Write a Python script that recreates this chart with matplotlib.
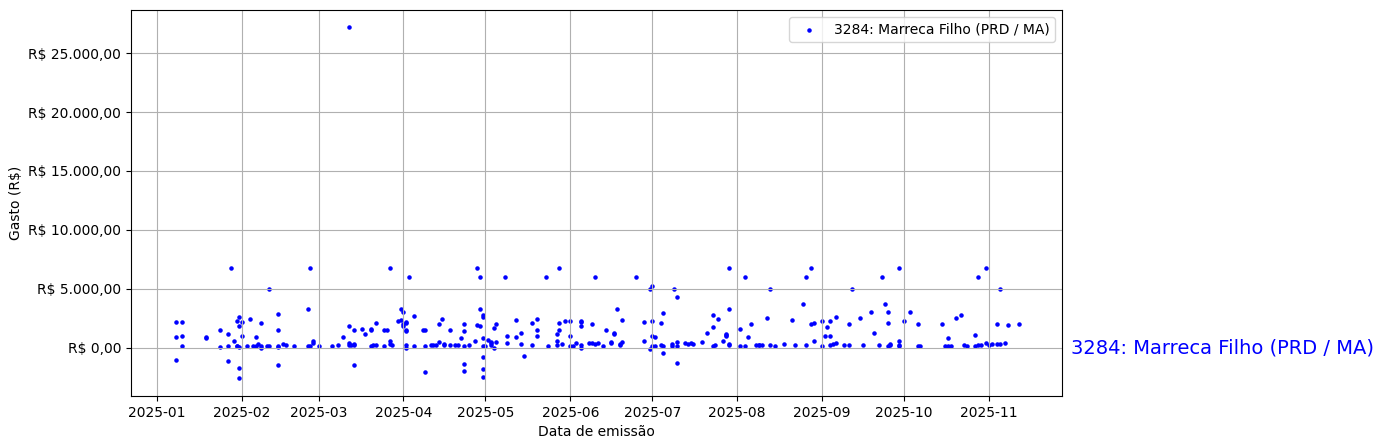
import matplotlib
matplotlib.use("Agg")
import matplotlib.pyplot as plt
import matplotlib.ticker as mticker
import matplotlib.transforms as mtrans
import pandas as pd

rotulo = "3284: Marreca Filho (PRD / MA)"

# data de emissao / gasto (R$)
datas = [
    # jan
    "2025-01-08", "2025-01-10", "2025-01-08", "2025-01-10", "2025-01-10", "2025-01-08",
    "2025-01-19", "2025-01-19", "2025-01-24", "2025-01-24", "2025-01-27", "2025-01-27",
    "2025-01-27", "2025-01-28", "2025-01-29", "2025-01-30", "2025-01-31", "2025-01-31",
    "2025-01-30", "2025-01-31", "2025-01-30", "2025-01-31", "2025-01-31",
    # fev
    "2025-02-01", "2025-02-01", "2025-02-04", "2025-02-06", "2025-02-08", "2025-02-03",
    "2025-02-05", "2025-02-06", "2025-02-07", "2025-02-08", "2025-02-08", "2025-02-11",
    "2025-02-11", "2025-02-10", "2025-02-14", "2025-02-14", "2025-02-14", "2025-02-14",
    "2025-02-14", "2025-02-16", "2025-02-17", "2025-02-20", "2025-02-25", "2025-02-25",
    "2025-02-26", "2025-02-26", "2025-02-27", "2025-02-27",
    # mar
    "2025-03-01", "2025-03-06", "2025-03-08", "2025-03-10", "2025-03-12", "2025-03-14",
    "2025-03-12", "2025-03-12", "2025-03-14", "2025-03-14", "2025-03-13", "2025-03-14",
    "2025-03-12", "2025-03-17", "2025-03-18", "2025-03-20", "2025-03-20", "2025-03-20",
    "2025-03-21", "2025-03-22", "2025-03-22", "2025-03-25", "2025-03-26", "2025-03-25",
    "2025-03-27", "2025-03-27", "2025-03-28", "2025-03-27", "2025-03-31", "2025-03-30",
    "2025-03-31",
    # abr
    "2025-04-01", "2025-04-01", "2025-04-01", "2025-04-02", "2025-04-02", "2025-04-02",
    "2025-04-02", "2025-04-05", "2025-04-02", "2025-04-02", "2025-04-05", "2025-04-03",
    "2025-04-08", "2025-04-09", "2025-04-09", "2025-04-09", "2025-04-11", "2025-04-12",
    "2025-04-13", "2025-04-14", "2025-04-15", "2025-04-14", "2025-04-16", "2025-04-16",
    "2025-04-18", "2025-04-18", "2025-04-20", "2025-04-21", "2025-04-22", "2025-04-23",
    "2025-04-23", "2025-04-23", "2025-04-23", "2025-04-23", "2025-04-25", "2025-04-27",
    "2025-04-28", "2025-04-29", "2025-04-29", "2025-04-28", "2025-04-29", "2025-04-30",
    "2025-04-30", "2025-04-30", "2025-04-30", "2025-04-30", "2025-04-30", "2025-04-30",
    # mai
    "2025-05-01", "2025-05-02", "2025-05-03", "2025-05-03", "2025-05-04", "2025-05-03",
    "2025-05-04", "2025-05-05", "2025-05-05", "2025-05-08", "2025-05-09", "2025-05-09",
    "2025-05-12", "2025-05-12", "2025-05-14", "2025-05-14", "2025-05-15", "2025-05-18",
    "2025-05-20", "2025-05-20", "2025-05-20", "2025-05-18", "2025-05-23", "2025-05-24",
    "2025-05-27", "2025-05-27", "2025-05-27", "2025-05-28", "2025-05-28", "2025-05-28",
    "2025-05-29", "2025-05-30",
    # jun
    "2025-06-01", "2025-06-01", "2025-06-01", "2025-06-02", "2025-06-03", "2025-06-05",
    "2025-06-05", "2025-06-05", "2025-06-05", "2025-06-05", "2025-06-09", "2025-06-08",
    "2025-06-09", "2025-06-10", "2025-06-11", "2025-06-10", "2025-06-13", "2025-06-14",
    "2025-06-16", "2025-06-16", "2025-06-17", "2025-06-17", "2025-06-18", "2025-06-19",
    "2025-06-19", "2025-06-20", "2025-06-20", "2025-06-25", "2025-06-28", "2025-06-28",
    "2025-06-30", "2025-06-30",
    # jul
    "2025-07-01", "2025-07-01", "2025-07-01", "2025-07-02", "2025-07-01", "2025-07-02",
    "2025-07-04", "2025-07-05", "2025-07-04", "2025-07-05", "2025-07-05", "2025-07-08",
    "2025-07-08", "2025-07-09", "2025-07-10", "2025-07-10", "2025-07-10", "2025-07-10",
    "2025-07-13", "2025-07-14", "2025-07-15", "2025-07-16", "2025-07-19", "2025-07-21",
    "2025-07-23", "2025-07-23", "2025-07-23", "2025-07-24", "2025-07-25", "2025-07-27",
    "2025-07-28", "2025-07-28", "2025-07-28", "2025-07-29", "2025-07-29", "2025-07-29",
    "2025-07-29",
    # ago
    "2025-08-02", "2025-08-02", "2025-08-04", "2025-08-04", "2025-08-05", "2025-08-06",
    "2025-08-08", "2025-08-09", "2025-08-09", "2025-08-10", "2025-08-12", "2025-08-13",
    "2025-08-13", "2025-08-15", "2025-08-18", "2025-08-21", "2025-08-22", "2025-08-25",
    "2025-08-26", "2025-08-26", "2025-08-28", "2025-08-28", "2025-08-29", "2025-08-29",
    # set
    "2025-09-01", "2025-09-01", "2025-09-02", "2025-09-03", "2025-09-04", "2025-09-04",
    "2025-09-04", "2025-09-05", "2025-09-06", "2025-09-06", "2025-09-09", "2025-09-11",
    "2025-09-11", "2025-09-12", "2025-09-15", "2025-09-16", "2025-09-19", "2025-09-20",
    "2025-09-22", "2025-09-23", "2025-09-24", "2025-09-25", "2025-09-25", "2025-09-25",
    "2025-09-26", "2025-09-26", "2025-09-29", "2025-09-29", "2025-09-29", "2025-09-29",
    # out
    "2025-10-01", "2025-10-03", "2025-10-06", "2025-10-06", "2025-10-07", "2025-10-15",
    "2025-10-16", "2025-10-17", "2025-10-18", "2025-10-17", "2025-10-20", "2025-10-22",
    "2025-10-23", "2025-10-24", "2025-10-27", "2025-10-27", "2025-10-28", "2025-10-29",
    "2025-10-28", "2025-10-31", "2025-10-31",
    # nov
    "2025-11-01", "2025-11-02", "2025-11-04", "2025-11-05", "2025-11-04", "2025-11-05",
    "2025-11-07", "2025-11-08", "2025-11-12",
]

valores = [
    # jan
    2150, 2150, 870, 950, 100, -1090,
    870, 780, 1460, 40, 1120, 100,
    -1180, 6750, 530, 2230, 1800, 2570,
    100, 80, 120, -1780, -2630,
    # fev
    2140, 950, 2400, 870, 2060, 100,
    110, 100, 270, 100, -70, 5000,
    100, 130, 2830, 1460, 130, 80,
    -1520, 270, 190, 100, 3250, 100,
    130, 6750, 530, 360,
    # mar
    130, 100, 190, 920, 1800, 1460,
    350, 190, 270, 190, 190, -1520,
    27200, 1550, 1120, 1460, 1550, 100,
    190, 190, 2060, 1460, 1460, 100,
    530, 270, 190, 6750, 3250, 2230,
    2310,
    # abr
    3000, 1970, 1800, 2060, 2140, 1460,
    1380, 2660, 190, -70, 100, 6000,
    1460, 1460, 100, -2120, 190, 190,
    190, 1970, 2400, 440, 270, 190,
    1460, 190, 190, 190, 780, 1970,
    1380, 100, -1430, -2030, 190, 530,
    6750, 6000, 3250, 1890, 1800, 2740,
    2570, 780, 100, -840, -1860, -2540,
    # mai
    100, 610, 440, 190, -70, 360,
    1630, 1970, 440, 6000, 950, 360,
    2310, 870, 1210, 270, -750, 2060,
    2400, 1460, 950, 190, 6000, 100,
    530, 190, 1120, 2060, 1460, 6750,
    270, 2230,
    # jun
    2230, 950, 100, 130, 360, 2230,
    2140, 1800, 190, -70, 1970, 360,
    360, 270, 360, 6000, 100, 1460,
    360, 440, 1210, 1120, 3250, 190,
    270, 440, 2310, 6000, 530, 2140,
    5000, -160,
    # jul
    5210, 2230, 950, 870, 100, 100,
    2060, 2910, 190, 130, -500, 270,
    100, 5000, 4280, 440, 100, -1350,
    360, 270, 360, 270, 440, 1210,
    1720, 2740, 100, 190, 2400, 530,
    1120, 950, 1040, 3250, 6750, 270,
    190,
    # ago
    100, 1550, 6000, 100, 870, 1970,
    190, 190, 190, 190, 2490, 5000,
    190, 130, 270, 2310, 190, 3680,
    6000, 190, 6750, 1970, 2060, 530,
    # set
    2230, 100, 950, 1720, 2230, 950,
    190, 270, 360, 2570, 190, 190,
    1970, 5000, 2490, 190, 3000, 1210,
    190, 6000, 3680, 3000, 100, 2060,
    270, 190, 6750, 530, 190, 100,
    # out
    2230, 3000, 1970, 100, 100, 1970,
    100, 100, 100, 780, 2490, 2740,
    190, 100, 1040, 100, 190, 240,
    6000, 6750, 360,
    # nov
    190, 270, 270, 270, 1970, 5000,
    360, 1890, 1970,
]


def fmt_real(v, pos):
    s = "{:,.2f}".format(v)
    s = s.replace(",", "X").replace(".", ",").replace("X", ".")
    return "R$ " + s


x = pd.to_datetime(datas)

fig, ax = plt.subplots(figsize=(13.83, 4.48), dpi=100)
fig.subplots_adjust(left=0.0947, right=0.768, top=0.978, bottom=0.116)

ax.scatter(x, valores, s=5, color="blue", label=rotulo)

ax.set_xlim(pd.Timestamp("2024-12-22 10:00"), pd.Timestamp("2025-11-27 19:00"))
ax.yaxis.set_major_locator(mticker.MultipleLocator(5000))
ax.yaxis.set_major_formatter(mticker.FuncFormatter(fmt_real))
ax.grid(True)
ax.set_xlabel("Data de emissão")
ax.set_ylabel("Gasto (R$)")
ax.legend(loc="upper right")

# rotulo ao lado direito, na altura de zero
tr = mtrans.blended_transform_factory(ax.transAxes, ax.transData)
ax.text(1.01, 0, rotulo, transform=tr, color="blue", fontsize=14,
        va="center", ha="left")

fig.savefig("out.png", dpi=100)
